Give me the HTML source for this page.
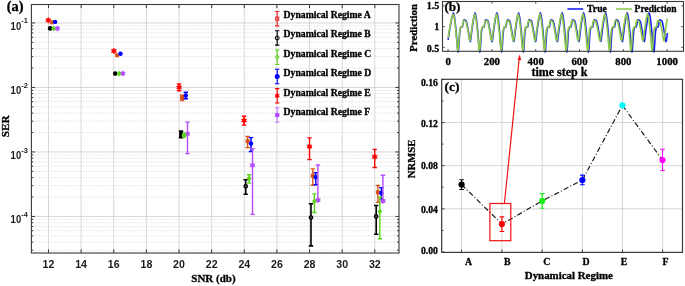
<!DOCTYPE html>
<html><head><meta charset="utf-8"><title>Figure</title>
<style>
html,body{margin:0;padding:0;background:#fff;}
body{width:685px;height:286px;overflow:hidden;font-family:"Liberation Sans", sans-serif;}
svg{display:block;will-change:transform;}
text[font-family*=Serif]{stroke:#000;stroke-width:0.3px;stroke-linejoin:round;}
</style></head><body>
<svg width="685" height="286" viewBox="0 0 685 286">
<rect x="0" y="0" width="685" height="286" fill="#fff"/>
<line x1="48.5" y1="4.5" x2="48.5" y2="253.0" stroke="#cdcdcd" stroke-width="0.8"/>
<line x1="81.13" y1="4.5" x2="81.13" y2="253.0" stroke="#cdcdcd" stroke-width="0.8"/>
<line x1="113.76" y1="4.5" x2="113.76" y2="253.0" stroke="#cdcdcd" stroke-width="0.8"/>
<line x1="146.39" y1="4.5" x2="146.39" y2="253.0" stroke="#cdcdcd" stroke-width="0.8"/>
<line x1="179.02" y1="4.5" x2="179.02" y2="253.0" stroke="#cdcdcd" stroke-width="0.8"/>
<line x1="211.65" y1="4.5" x2="211.65" y2="253.0" stroke="#cdcdcd" stroke-width="0.8"/>
<line x1="244.28" y1="4.5" x2="244.28" y2="253.0" stroke="#cdcdcd" stroke-width="0.8"/>
<line x1="276.91" y1="4.5" x2="276.91" y2="253.0" stroke="#cdcdcd" stroke-width="0.8"/>
<line x1="309.54" y1="4.5" x2="309.54" y2="253.0" stroke="#cdcdcd" stroke-width="0.8"/>
<line x1="342.17" y1="4.5" x2="342.17" y2="253.0" stroke="#cdcdcd" stroke-width="0.8"/>
<line x1="374.8" y1="4.5" x2="374.8" y2="253.0" stroke="#cdcdcd" stroke-width="0.8"/>
<line x1="31.4" y1="22.95" x2="399.0" y2="22.95" stroke="#cdcdcd" stroke-width="0.8"/>
<line x1="31.4" y1="87.45" x2="399.0" y2="87.45" stroke="#cdcdcd" stroke-width="0.8"/>
<line x1="31.4" y1="68.03" x2="399.0" y2="68.03" stroke="#e0e0e0" stroke-width="0.8" stroke-dasharray="2 1.2"/>
<line x1="31.4" y1="56.68" x2="399.0" y2="56.68" stroke="#e0e0e0" stroke-width="0.8" stroke-dasharray="2 1.2"/>
<line x1="31.4" y1="48.62" x2="399.0" y2="48.62" stroke="#e0e0e0" stroke-width="0.8" stroke-dasharray="2 1.2"/>
<line x1="31.4" y1="42.37" x2="399.0" y2="42.37" stroke="#e0e0e0" stroke-width="0.8" stroke-dasharray="2 1.2"/>
<line x1="31.4" y1="37.26" x2="399.0" y2="37.26" stroke="#e0e0e0" stroke-width="0.8" stroke-dasharray="2 1.2"/>
<line x1="31.4" y1="32.94" x2="399.0" y2="32.94" stroke="#e0e0e0" stroke-width="0.8" stroke-dasharray="2 1.2"/>
<line x1="31.4" y1="29.2" x2="399.0" y2="29.2" stroke="#e0e0e0" stroke-width="0.8" stroke-dasharray="2 1.2"/>
<line x1="31.4" y1="25.9" x2="399.0" y2="25.9" stroke="#e0e0e0" stroke-width="0.8" stroke-dasharray="2 1.2"/>
<line x1="31.4" y1="151.95" x2="399.0" y2="151.95" stroke="#cdcdcd" stroke-width="0.8"/>
<line x1="31.4" y1="132.53" x2="399.0" y2="132.53" stroke="#e0e0e0" stroke-width="0.8" stroke-dasharray="2 1.2"/>
<line x1="31.4" y1="121.18" x2="399.0" y2="121.18" stroke="#e0e0e0" stroke-width="0.8" stroke-dasharray="2 1.2"/>
<line x1="31.4" y1="113.12" x2="399.0" y2="113.12" stroke="#e0e0e0" stroke-width="0.8" stroke-dasharray="2 1.2"/>
<line x1="31.4" y1="106.87" x2="399.0" y2="106.87" stroke="#e0e0e0" stroke-width="0.8" stroke-dasharray="2 1.2"/>
<line x1="31.4" y1="101.76" x2="399.0" y2="101.76" stroke="#e0e0e0" stroke-width="0.8" stroke-dasharray="2 1.2"/>
<line x1="31.4" y1="97.44" x2="399.0" y2="97.44" stroke="#e0e0e0" stroke-width="0.8" stroke-dasharray="2 1.2"/>
<line x1="31.4" y1="93.7" x2="399.0" y2="93.7" stroke="#e0e0e0" stroke-width="0.8" stroke-dasharray="2 1.2"/>
<line x1="31.4" y1="90.4" x2="399.0" y2="90.4" stroke="#e0e0e0" stroke-width="0.8" stroke-dasharray="2 1.2"/>
<line x1="31.4" y1="216.45" x2="399.0" y2="216.45" stroke="#cdcdcd" stroke-width="0.8"/>
<line x1="31.4" y1="197.03" x2="399.0" y2="197.03" stroke="#e0e0e0" stroke-width="0.8" stroke-dasharray="2 1.2"/>
<line x1="31.4" y1="185.68" x2="399.0" y2="185.68" stroke="#e0e0e0" stroke-width="0.8" stroke-dasharray="2 1.2"/>
<line x1="31.4" y1="177.62" x2="399.0" y2="177.62" stroke="#e0e0e0" stroke-width="0.8" stroke-dasharray="2 1.2"/>
<line x1="31.4" y1="171.37" x2="399.0" y2="171.37" stroke="#e0e0e0" stroke-width="0.8" stroke-dasharray="2 1.2"/>
<line x1="31.4" y1="166.26" x2="399.0" y2="166.26" stroke="#e0e0e0" stroke-width="0.8" stroke-dasharray="2 1.2"/>
<line x1="31.4" y1="161.94" x2="399.0" y2="161.94" stroke="#e0e0e0" stroke-width="0.8" stroke-dasharray="2 1.2"/>
<line x1="31.4" y1="158.2" x2="399.0" y2="158.2" stroke="#e0e0e0" stroke-width="0.8" stroke-dasharray="2 1.2"/>
<line x1="31.4" y1="154.9" x2="399.0" y2="154.9" stroke="#e0e0e0" stroke-width="0.8" stroke-dasharray="2 1.2"/>
<line x1="31.4" y1="250.18" x2="399.0" y2="250.18" stroke="#e0e0e0" stroke-width="0.8" stroke-dasharray="2 1.2"/>
<line x1="31.4" y1="242.12" x2="399.0" y2="242.12" stroke="#e0e0e0" stroke-width="0.8" stroke-dasharray="2 1.2"/>
<line x1="31.4" y1="235.87" x2="399.0" y2="235.87" stroke="#e0e0e0" stroke-width="0.8" stroke-dasharray="2 1.2"/>
<line x1="31.4" y1="230.76" x2="399.0" y2="230.76" stroke="#e0e0e0" stroke-width="0.8" stroke-dasharray="2 1.2"/>
<line x1="31.4" y1="226.44" x2="399.0" y2="226.44" stroke="#e0e0e0" stroke-width="0.8" stroke-dasharray="2 1.2"/>
<line x1="31.4" y1="222.7" x2="399.0" y2="222.7" stroke="#e0e0e0" stroke-width="0.8" stroke-dasharray="2 1.2"/>
<line x1="31.4" y1="219.4" x2="399.0" y2="219.4" stroke="#e0e0e0" stroke-width="0.8" stroke-dasharray="2 1.2"/>
<path d="M48.5 253.0v-3.6M48.5 4.5v3.6M81.13 253.0v-3.6M81.13 4.5v3.6M113.76 253.0v-3.6M113.76 4.5v3.6M146.39 253.0v-3.6M146.39 4.5v3.6M179.02 253.0v-3.6M179.02 4.5v3.6M211.65 253.0v-3.6M211.65 4.5v3.6M244.28 253.0v-3.6M244.28 4.5v3.6M276.91 253.0v-3.6M276.91 4.5v3.6M309.54 253.0v-3.6M309.54 4.5v3.6M342.17 253.0v-3.6M342.17 4.5v3.6M374.8 253.0v-3.6M374.8 4.5v3.6M31.4 22.95h3.6M399.0 22.95h-3.6M31.4 87.45h3.6M399.0 87.45h-3.6M31.4 68.03h1.9M399.0 68.03h-1.9M31.4 56.68h1.9M399.0 56.68h-1.9M31.4 48.62h1.9M399.0 48.62h-1.9M31.4 42.37h1.9M399.0 42.37h-1.9M31.4 37.26h1.9M399.0 37.26h-1.9M31.4 32.94h1.9M399.0 32.94h-1.9M31.4 29.2h1.9M399.0 29.2h-1.9M31.4 25.9h1.9M399.0 25.9h-1.9M31.4 151.95h3.6M399.0 151.95h-3.6M31.4 132.53h1.9M399.0 132.53h-1.9M31.4 121.18h1.9M399.0 121.18h-1.9M31.4 113.12h1.9M399.0 113.12h-1.9M31.4 106.87h1.9M399.0 106.87h-1.9M31.4 101.76h1.9M399.0 101.76h-1.9M31.4 97.44h1.9M399.0 97.44h-1.9M31.4 93.7h1.9M399.0 93.7h-1.9M31.4 90.4h1.9M399.0 90.4h-1.9M31.4 216.45h3.6M399.0 216.45h-3.6M31.4 197.03h1.9M399.0 197.03h-1.9M31.4 185.68h1.9M399.0 185.68h-1.9M31.4 177.62h1.9M399.0 177.62h-1.9M31.4 171.37h1.9M399.0 171.37h-1.9M31.4 166.26h1.9M399.0 166.26h-1.9M31.4 161.94h1.9M399.0 161.94h-1.9M31.4 158.2h1.9M399.0 158.2h-1.9M31.4 154.9h1.9M399.0 154.9h-1.9M31.4 250.18h1.9M399.0 250.18h-1.9M31.4 242.12h1.9M399.0 242.12h-1.9M31.4 235.87h1.9M399.0 235.87h-1.9M31.4 230.76h1.9M399.0 230.76h-1.9M31.4 226.44h1.9M399.0 226.44h-1.9M31.4 222.7h1.9M399.0 222.7h-1.9M31.4 219.4h1.9M399.0 219.4h-1.9" stroke="#3a3a3a" stroke-width="1" fill="none"/>
<rect x="31.4" y="4.5" width="367.6" height="248.5" fill="none" stroke="#3a3a3a" stroke-width="1.1"/>
<text x="48.5" y="267.8" font-family='"Liberation Sans", sans-serif' font-weight="bold" font-size="10.6" text-anchor="middle" fill="#1a1a1a">12</text>
<text x="81.13" y="267.8" font-family='"Liberation Sans", sans-serif' font-weight="bold" font-size="10.6" text-anchor="middle" fill="#1a1a1a">14</text>
<text x="113.76" y="267.8" font-family='"Liberation Sans", sans-serif' font-weight="bold" font-size="10.6" text-anchor="middle" fill="#1a1a1a">16</text>
<text x="146.39" y="267.8" font-family='"Liberation Sans", sans-serif' font-weight="bold" font-size="10.6" text-anchor="middle" fill="#1a1a1a">18</text>
<text x="179.02" y="267.8" font-family='"Liberation Sans", sans-serif' font-weight="bold" font-size="10.6" text-anchor="middle" fill="#1a1a1a">20</text>
<text x="211.65" y="267.8" font-family='"Liberation Sans", sans-serif' font-weight="bold" font-size="10.6" text-anchor="middle" fill="#1a1a1a">22</text>
<text x="244.28" y="267.8" font-family='"Liberation Sans", sans-serif' font-weight="bold" font-size="10.6" text-anchor="middle" fill="#1a1a1a">24</text>
<text x="276.91" y="267.8" font-family='"Liberation Sans", sans-serif' font-weight="bold" font-size="10.6" text-anchor="middle" fill="#1a1a1a">26</text>
<text x="309.54" y="267.8" font-family='"Liberation Sans", sans-serif' font-weight="bold" font-size="10.6" text-anchor="middle" fill="#1a1a1a">28</text>
<text x="342.17" y="267.8" font-family='"Liberation Sans", sans-serif' font-weight="bold" font-size="10.6" text-anchor="middle" fill="#1a1a1a">30</text>
<text x="374.8" y="267.8" font-family='"Liberation Sans", sans-serif' font-weight="bold" font-size="10.6" text-anchor="middle" fill="#1a1a1a">32</text>
<text x="10.6" y="29.65" font-family='"Liberation Sans", sans-serif' font-weight="bold" font-size="10.6" fill="#1a1a1a" transform="translate(10.6 0) scale(0.9 1) translate(-10.6 0)">10</text>
<text x="21.2" y="23.45" font-family='"Liberation Sans", sans-serif' font-weight="bold" font-size="7.4" fill="#1a1a1a">-1</text>
<text x="10.6" y="94.2" font-family='"Liberation Sans", sans-serif' font-weight="bold" font-size="10.6" fill="#1a1a1a" transform="translate(10.6 0) scale(0.9 1) translate(-10.6 0)">10</text>
<text x="21.2" y="88" font-family='"Liberation Sans", sans-serif' font-weight="bold" font-size="7.4" fill="#1a1a1a">-2</text>
<text x="10.6" y="158.7" font-family='"Liberation Sans", sans-serif' font-weight="bold" font-size="10.6" fill="#1a1a1a" transform="translate(10.6 0) scale(0.9 1) translate(-10.6 0)">10</text>
<text x="21.2" y="152.5" font-family='"Liberation Sans", sans-serif' font-weight="bold" font-size="7.4" fill="#1a1a1a">-3</text>
<text x="10.6" y="223.2" font-family='"Liberation Sans", sans-serif' font-weight="bold" font-size="10.6" fill="#1a1a1a" transform="translate(10.6 0) scale(0.9 1) translate(-10.6 0)">10</text>
<text x="21.2" y="217" font-family='"Liberation Sans", sans-serif' font-weight="bold" font-size="7.4" fill="#1a1a1a">-4</text>
<text x="191.3" y="282.4" font-family='"Liberation Serif", serif' font-weight="bold" font-size="11" fill="#000">SNR (db)</text>
<text transform="translate(9.0 126.3) rotate(-90)" x="0" y="0" font-family='"Liberation Serif", serif' font-weight="bold" font-size="11.3" text-anchor="middle" fill="#000">SER</text>
<text x="6.8" y="10.9" font-family='"Liberation Serif", serif' font-weight="bold" font-size="14.4" fill="#000">(a)</text>
<polygon points="48.3,17.4 47.46,18.84 45.79,18.85 46.62,20.3 45.79,21.75 47.46,21.76 48.3,23.2 49.14,21.76 50.81,21.75 49.98,20.3 50.81,18.85 49.14,18.84" fill="#ff0000" stroke="#ff0000" stroke-width="0.6"/>
<polygon points="113.9,48.1 113.06,49.54 111.39,49.55 112.22,51 111.39,52.45 113.06,52.46 113.9,53.9 114.74,52.46 116.41,52.45 115.58,51 116.41,49.55 114.74,49.54" fill="#ff0000" stroke="#ff0000" stroke-width="0.6"/>
<path d="M179.1 84V90.7M176.9 84h4.4M176.9 90.7h4.4" stroke="#ff0000" stroke-width="1.4" fill="none"/>
<polygon points="179.1,84.5 178.26,85.94 176.59,85.95 177.42,87.4 176.59,88.85 178.26,88.86 179.1,90.3 179.94,88.86 181.61,88.85 180.78,87.4 181.61,85.95 179.94,85.94" fill="#ff0000" stroke="#ff0000" stroke-width="0.6"/>
<path d="M244.1 116.3V125.1M241.9 116.3h4.4M241.9 125.1h4.4" stroke="#ff0000" stroke-width="1.4" fill="none"/>
<polygon points="244.1,117.6 243.26,119.04 241.59,119.05 242.42,120.5 241.59,121.95 243.26,121.96 244.1,123.4 244.94,121.96 246.61,121.95 245.78,120.5 246.61,119.05 244.94,119.04" fill="#ff0000" stroke="#ff0000" stroke-width="0.6"/>
<path d="M309.5 137.9V159.6M307.3 137.9h4.4M307.3 159.6h4.4" stroke="#ff0000" stroke-width="1.4" fill="none"/>
<polygon points="309.5,143.7 308.66,145.14 306.99,145.15 307.82,146.6 306.99,148.05 308.66,148.06 309.5,149.5 310.34,148.06 312.01,148.05 311.18,146.6 312.01,145.15 310.34,145.14" fill="#ff0000" stroke="#ff0000" stroke-width="0.6"/>
<path d="M374.7 149.4V167.5M372.5 149.4h4.4M372.5 167.5h4.4" stroke="#ff0000" stroke-width="1.4" fill="none"/>
<polygon points="374.7,153.9 373.86,155.34 372.19,155.35 373.02,156.8 372.19,158.25 373.86,158.26 374.7,159.7 375.54,158.26 377.21,158.25 376.38,156.8 377.21,155.35 375.54,155.34" fill="#ff0000" stroke="#ff0000" stroke-width="0.6"/>
<circle cx="50.1" cy="28.4" r="2.3" fill="#000000"/>
<circle cx="115.2" cy="73.6" r="2.3" fill="#000000"/>
<path d="M181 131V137.6M178.8 131h4.4M178.8 137.6h4.4" stroke="#000000" stroke-width="1.6" fill="none"/>
<rect x="179.1" y="131" width="3.8" height="6.6" fill="#000"/>
<path d="M245.7 179.7V194.2M243.5 179.7h4.4M243.5 194.2h4.4" stroke="#000000" stroke-width="1.6" fill="none"/>
<circle cx="245.7" cy="186.3" r="1.7" fill="#555" stroke="#000" stroke-width="1.3"/>
<path d="M311 203.8V245.9M308.8 203.8h4.4M308.8 245.9h4.4" stroke="#000000" stroke-width="1.6" fill="none"/>
<circle cx="311" cy="217.5" r="1.7" fill="#555" stroke="#000" stroke-width="1.3"/>
<path d="M376.2 205.5V234.3M374 205.5h4.4M374 234.3h4.4" stroke="#000000" stroke-width="1.6" fill="none"/>
<circle cx="376.2" cy="216.4" r="1.7" fill="#555" stroke="#000" stroke-width="1.3"/>
<rect x="49.9" y="20.3" width="4.0" height="4.0" fill="#d95319"/>
<rect x="115.1" y="53.3" width="4.0" height="4.0" fill="#d95319"/>
<path d="M182.1 95.2V100.6M179.9 95.2h4.4M179.9 100.6h4.4" stroke="#d95319" stroke-width="1.4" fill="none"/>
<rect x="180.1" y="95.8" width="4.0" height="4.0" fill="#d95319"/>
<path d="M247.6 136.5V147.6M245.4 136.5h4.4M245.4 147.6h4.4" stroke="#d95319" stroke-width="1.4" fill="none"/>
<rect x="245.6" y="139.2" width="4.0" height="4.0" fill="#d95319"/>
<path d="M312.8 168.9V185.2M310.6 168.9h4.4M310.6 185.2h4.4" stroke="#d95319" stroke-width="1.4" fill="none"/>
<rect x="310.8" y="173.7" width="4.0" height="4.0" fill="#d95319"/>
<path d="M377.9 185.5V202.4M375.7 185.5h4.4M375.7 202.4h4.4" stroke="#d95319" stroke-width="1.4" fill="none"/>
<rect x="375.9" y="190.3" width="4.0" height="4.0" fill="#d95319"/>
<circle cx="55.1" cy="21.9" r="2.2" fill="#0000ff"/>
<circle cx="120.5" cy="53.7" r="2.2" fill="#0000ff"/>
<path d="M185.8 92.2V98.8M183.6 92.2h4.4M183.6 98.8h4.4" stroke="#0000ff" stroke-width="1.4" fill="none"/>
<circle cx="185.8" cy="95.5" r="2.2" fill="#0000ff"/>
<path d="M251 137.6V151.5M248.8 137.6h4.4M248.8 151.5h4.4" stroke="#0000ff" stroke-width="1.4" fill="none"/>
<circle cx="251" cy="143.4" r="2.2" fill="#0000ff"/>
<path d="M315.8 172.6V184.7M313.6 172.6h4.4M313.6 184.7h4.4" stroke="#0000ff" stroke-width="1.4" fill="none"/>
<circle cx="315.8" cy="177.3" r="2.2" fill="#0000ff"/>
<path d="M381.3 187.6V199.4M379.1 187.6h4.4M379.1 199.4h4.4" stroke="#0000ff" stroke-width="1.4" fill="none"/>
<circle cx="381.3" cy="193" r="2.2" fill="#0000ff"/>
<polygon points="57.3,25.7 56.49,27.09 54.88,27.1 55.68,28.5 54.88,29.9 56.49,29.91 57.3,31.3 58.11,29.91 59.72,29.9 58.92,28.5 59.72,27.1 58.11,27.09" fill="#b44cff" stroke="#b44cff" stroke-width="0.6"/>
<polygon points="122.8,70.7 121.99,72.09 120.38,72.1 121.18,73.5 120.38,74.9 121.99,74.91 122.8,76.3 123.61,74.91 125.22,74.9 124.42,73.5 125.22,72.1 123.61,72.09" fill="#b44cff" stroke="#b44cff" stroke-width="0.6"/>
<path d="M187.5 122.1V153.6M185.3 122.1h4.4M185.3 153.6h4.4" stroke="#b44cff" stroke-width="1.4" fill="none"/>
<polygon points="187.5,131 186.69,132.39 185.08,132.4 185.88,133.8 185.08,135.2 186.69,135.21 187.5,136.6 188.31,135.21 189.92,135.2 189.12,133.8 189.92,132.4 188.31,132.39" fill="#b44cff" stroke="#b44cff" stroke-width="0.6"/>
<path d="M252.5 148.7V214.4M250.3 148.7h4.4M250.3 214.4h4.4" stroke="#b44cff" stroke-width="1.4" fill="none"/>
<polygon points="252.5,162.5 251.69,163.89 250.08,163.9 250.88,165.3 250.08,166.7 251.69,166.71 252.5,168.1 253.31,166.71 254.92,166.7 254.12,165.3 254.92,163.9 253.31,163.89" fill="#b44cff" stroke="#b44cff" stroke-width="0.6"/>
<path d="M317.9 165V201M315.7 165h4.4M315.7 201h4.4" stroke="#b44cff" stroke-width="1.4" fill="none"/>
<polygon points="317.9,197.4 317.09,198.79 315.48,198.8 316.28,200.2 315.48,201.6 317.09,201.61 317.9,203 318.71,201.61 320.32,201.6 319.52,200.2 320.32,198.8 318.71,198.79" fill="#b44cff" stroke="#b44cff" stroke-width="0.6"/>
<path d="M382.9 175.2V201M380.7 175.2h4.4M380.7 201h4.4" stroke="#b44cff" stroke-width="1.4" fill="none"/>
<polygon points="382.9,198.2 382.09,199.59 380.48,199.6 381.28,201 380.48,202.4 382.09,202.41 382.9,203.8 383.71,202.41 385.32,202.4 384.52,201 385.32,199.6 383.71,199.59" fill="#b44cff" stroke="#b44cff" stroke-width="0.6"/>
<polygon points="53.5,25.4 55.9,28.5 53.5,31.6 51.1,28.5" fill="#5fd31f"/>
<polygon points="119,70.6 121.4,73.7 119,76.8 116.6,73.7" fill="#5fd31f"/>
<ellipse cx="184.1" cy="135.2" rx="2.3" ry="3.0" fill="#5fd31f"/>
<path d="M249.1 174.7V183.1M246.9 174.7h4.4M246.9 183.1h4.4" stroke="#5fd31f" stroke-width="1.4" fill="none"/>
<polygon points="249.1,175.5 251.5,178.6 249.1,181.7 246.7,178.6" fill="#5fd31f"/>
<path d="M314.4 193.9V212.5M312.2 193.9h4.4M312.2 212.5h4.4" stroke="#5fd31f" stroke-width="1.4" fill="none"/>
<polygon points="314.4,198.2 316.8,201.3 314.4,204.4 312,201.3" fill="#5fd31f"/>
<path d="M379.8 197.3V238.7M377.6 197.3h4.4M377.6 238.7h4.4" stroke="#5fd31f" stroke-width="1.4" fill="none"/>
<polygon points="379.8,208.4 382.2,211.5 379.8,214.6 377.4,211.5" fill="#5fd31f"/>
<path d="M277.2 11.5V25.9M275 11.5h4.4M275 25.9h4.4" stroke="#e8262a" stroke-width="1.1" fill="none"/>
<rect x="275.6" y="17.1" width="3.2" height="3.2" fill="none" stroke="#e8262a" stroke-width="1"/>
<text x="283.6" y="17.9" font-family='"Liberation Serif", serif' font-weight="bold" font-size="9.7" fill="#000">Dynamical Regime A</text>
<path d="M277.2 30.77V45.17M275 30.77h4.4M275 45.17h4.4" stroke="#000000" stroke-width="1.1" fill="none"/>
<circle cx="277.2" cy="37.97" r="2.0" fill="none" stroke="#000000" stroke-width="1"/>
<text x="283.6" y="37.36" font-family='"Liberation Serif", serif' font-weight="bold" font-size="9.7" fill="#000">Dynamical Regime B</text>
<path d="M277.2 50.04V64.44M275 50.04h4.4M275 64.44h4.4" stroke="#5fd31f" stroke-width="1.1" fill="none"/>
<polygon points="277.2,54.94 279.3,57.24 277.2,59.54 275.1,57.24" fill="none" stroke="#5fd31f" stroke-width="1"/>
<text x="283.6" y="56.82" font-family='"Liberation Serif", serif' font-weight="bold" font-size="9.7" fill="#000">Dynamical Regime C</text>
<path d="M277.2 69.31V83.71M275 69.31h4.4M275 83.71h4.4" stroke="#0000ff" stroke-width="1.1" fill="none"/>
<circle cx="277.2" cy="76.51" r="2.5" fill="#0000ff"/>
<text x="283.6" y="76.28" font-family='"Liberation Serif", serif' font-weight="bold" font-size="9.7" fill="#000">Dynamical Regime D</text>
<path d="M277.2 88.58V102.98M275 88.58h4.4M275 102.98h4.4" stroke="#ff0000" stroke-width="1.1" fill="none"/>
<polygon points="277.2,93.38 276.5,94.57 275.12,94.58 275.81,95.78 275.12,96.98 276.5,96.99 277.2,98.18 277.9,96.99 279.28,96.98 278.59,95.78 279.28,94.58 277.9,94.57" fill="#ff0000" stroke="#ff0000" stroke-width="0.6"/>
<text x="283.6" y="95.74" font-family='"Liberation Serif", serif' font-weight="bold" font-size="9.7" fill="#000">Dynamical Regime E</text>
<path d="M277.2 107.85V122.25M275 107.85h4.4M275 122.25h4.4" stroke="#c47dff" stroke-width="1.1" fill="none"/>
<polygon points="277.2,112.45 276.45,113.74 274.95,113.75 275.69,115.05 274.95,116.35 276.45,116.36 277.2,117.65 277.95,116.36 279.45,116.35 278.71,115.05 279.45,113.75 277.95,113.74" fill="#b040ff" stroke="#b040ff" stroke-width="0.6"/>
<text x="283.6" y="115.2" font-family='"Liberation Serif", serif' font-weight="bold" font-size="9.7" fill="#000">Dynamical Regime F</text>
<path d="M448.1 51.3v-2.2M448.1 1.5v2.2M491.91 51.3v-2.2M491.91 1.5v2.2M535.72 51.3v-2.2M535.72 1.5v2.2M579.53 51.3v-2.2M579.53 1.5v2.2M623.34 51.3v-2.2M623.34 1.5v2.2M667.15 51.3v-2.2M667.15 1.5v2.2M442.5 47.3h2.2M683.5 47.3h-2.2M442.5 26.6h2.2M683.5 26.6h-2.2M442.5 5.9h2.2M683.5 5.9h-2.2" stroke="#3a3a3a" stroke-width="0.9" fill="none"/>
<polyline points="448.10,39.90 448.35,38.42 448.60,36.68 448.85,34.82 449.10,32.98 449.35,31.30 449.60,29.88 449.85,28.49 450.10,27.07 450.35,25.64 450.60,24.22 450.85,22.83 451.10,21.47 451.35,20.18 451.60,18.96 451.85,17.84 452.10,16.82 452.35,15.92 452.60,15.10 452.85,14.34 453.10,13.65 453.35,13.04 453.60,13.27 453.85,14.04 454.10,15.04 454.35,16.20 454.60,17.59 454.85,19.42 455.10,21.59 455.35,23.98 455.60,26.47 455.85,28.94 456.10,31.33 456.35,34.11 456.60,37.24 456.85,40.52 457.10,43.74 457.35,46.70 457.60,49.19 457.85,51.01 458.10,51.96 458.35,51.65 458.60,49.58 458.85,46.23 459.10,42.17 459.35,37.95 459.60,34.16 459.85,31.35 460.10,29.91 460.35,28.81 460.60,27.86 460.85,27.17 461.10,26.82 461.35,26.82 461.60,26.95 461.85,27.11 462.10,27.21 462.35,27.03 462.60,26.19 462.85,24.89 463.10,23.37 463.35,21.88 463.60,20.65 463.85,19.93 464.10,19.84 464.35,19.88 464.60,19.95 464.85,20.05 465.10,20.18 465.35,20.33 465.60,20.51 465.85,20.72 466.10,20.94 466.35,21.43 466.60,22.24 466.85,23.32 467.10,24.59 467.35,25.97 467.60,27.41 467.85,28.84 468.10,30.17 468.35,31.50 468.60,33.10 468.85,34.84 469.10,36.60 469.35,38.27 469.60,39.72 469.85,40.82 470.10,41.45 470.35,41.46 470.60,40.55 470.85,38.90 471.10,36.79 471.35,34.48 471.60,32.24 471.85,30.33 472.10,28.62 472.35,26.86 472.60,25.08 472.85,23.33 473.10,21.64 473.35,20.03 473.60,18.54 473.85,17.21 474.10,16.06 474.35,15.03 474.60,14.11 474.85,13.29 475.10,13.09 475.35,13.77 475.60,14.69 475.85,15.79 476.10,17.04 476.35,18.70 476.60,20.73 476.85,23.02 477.10,25.45 477.35,27.90 477.60,30.28 477.85,32.80 478.10,35.75 478.35,38.94 478.60,42.17 478.85,45.24 479.10,47.97 479.35,50.14 479.60,51.56 479.85,52.04 480.10,50.97 480.35,48.33 480.60,44.67 480.85,40.54 481.10,36.47 481.35,33.02 481.60,30.72 481.85,29.54 482.10,28.49 482.35,27.63 482.60,27.03 482.85,26.79 483.10,26.85 483.35,26.99 483.60,27.14 483.85,27.22 484.10,26.91 484.35,25.97 484.60,24.63 484.85,23.12 485.10,21.68 485.35,20.52 485.60,19.89 485.85,19.84 486.10,19.88 486.35,19.95 486.60,20.05 486.85,20.18 487.10,20.34 487.35,20.52 487.60,20.72 487.85,20.94 488.10,21.42 488.35,22.21 488.60,23.27 488.85,24.51 489.10,25.87 489.35,27.29 489.60,28.70 489.85,30.02 490.10,31.32 490.35,32.86 490.60,34.57 490.85,36.31 491.10,37.98 491.35,39.46 491.60,40.62 491.85,41.36 492.10,41.54 492.35,40.85 492.60,39.39 492.85,37.41 493.10,35.16 493.35,32.90 493.60,30.89 493.85,29.20 494.10,27.47 494.35,25.72 494.60,23.98 494.85,22.29 495.10,20.66 495.35,19.14 495.60,17.76 495.85,16.55 496.10,15.49 496.35,14.53 496.60,13.67 496.85,12.93 497.10,13.41 497.35,14.23 497.60,15.25 497.85,16.43 498.10,17.90 498.35,19.79 498.60,22.00 498.85,24.40 499.10,26.89 499.35,29.33 499.60,31.73 499.85,34.57 500.10,37.72 500.35,40.99 500.60,44.17 500.85,47.06 501.10,49.47 501.35,51.18 501.60,52.00 501.85,51.50 502.10,49.27 502.35,45.83 502.60,41.74 502.85,37.56 503.10,33.85 503.35,31.17 503.60,29.82 503.85,28.73 504.10,27.80 504.35,27.13 504.60,26.81 504.85,26.83 505.10,26.96 505.35,27.12 505.60,27.21 505.85,27.01 506.10,26.15 506.35,24.84 506.60,23.33 506.85,21.85 507.10,20.64 507.35,19.93 507.60,19.84 507.85,19.88 508.10,19.95 508.35,20.05 508.60,20.17 508.85,20.33 509.10,20.51 509.35,20.71 509.60,20.94 509.85,21.41 510.10,22.21 510.35,23.27 510.60,24.52 510.85,25.90 511.10,27.33 511.35,28.75 511.60,30.08 511.85,31.40 512.10,32.97 512.35,34.70 512.60,36.46 512.85,38.13 513.10,39.59 513.35,40.73 513.60,41.41 513.85,41.50 514.10,40.69 514.35,39.12 514.60,37.06 514.85,34.77 515.10,32.52 515.35,30.56 515.60,28.86 515.85,27.11 516.10,25.35 516.35,23.60 516.60,21.90 516.85,20.28 517.10,18.78 517.35,17.43 517.60,16.25 517.85,15.21 518.10,14.27 518.35,13.44 518.60,12.99 518.85,13.63 519.10,14.51 519.35,15.58 519.60,16.80 519.85,18.39 520.10,20.37 520.35,22.64 520.60,25.06 520.85,27.54 521.10,29.94 521.35,32.41 521.60,35.33 521.85,38.51 522.10,41.76 522.35,44.88 522.60,47.67 522.85,49.92 523.10,51.45 523.35,52.04 523.60,51.15 523.85,48.64 524.10,45.03 524.35,40.90 524.60,36.79 524.85,33.25 525.10,30.84 525.35,29.62 525.60,28.55 525.85,27.67 526.10,27.05 526.35,26.79 526.60,26.84 526.85,26.98 527.10,27.14 527.35,27.22 527.60,26.92 527.85,25.99 528.10,24.66 528.35,23.14 528.60,21.69 528.85,20.53 529.10,19.89 529.35,19.84 529.60,19.88 529.85,19.95 530.10,20.06 530.35,20.19 530.60,20.34 530.85,20.52 531.10,20.73 531.35,20.96 531.60,21.45 531.85,22.26 532.10,23.33 532.35,24.59 532.60,25.97 532.85,27.39 533.10,28.80 533.35,30.12 533.60,31.44 533.85,33.01 534.10,34.73 534.35,36.48 534.60,38.14 534.85,39.60 535.10,40.73 535.35,41.41 535.60,41.50 535.85,40.71 536.10,39.16 536.35,37.12 536.60,34.84 536.85,32.59 537.10,30.63 537.35,28.93 537.60,27.19 537.85,25.44 538.10,23.70 538.35,22.00 538.60,20.39 538.85,18.88 539.10,17.52 539.35,16.34 539.60,15.29 539.85,14.35 540.10,13.51 540.35,12.94 540.60,13.55 540.85,14.41 541.10,15.47 541.35,16.67 541.60,18.22 541.85,20.17 542.10,22.41 542.35,24.82 542.60,27.30 542.85,29.71 543.10,32.15 543.35,35.03 543.60,38.19 543.85,41.45 544.10,44.59 544.35,47.42 544.60,49.73 544.85,51.34 545.10,52.03 545.35,51.32 545.60,48.94 545.85,45.41 546.10,41.31 546.35,37.17 546.60,33.55 546.85,31.01 547.10,29.72 547.35,28.65 547.60,27.75 547.85,27.10 548.10,26.80 548.35,26.83 548.60,26.97 548.85,27.12 549.10,27.21 549.35,26.98 549.60,26.11 549.85,24.80 550.10,23.29 550.35,21.82 550.60,20.62 550.85,19.92 551.10,19.84 551.35,19.88 551.60,19.95 551.85,20.04 552.10,20.17 552.35,20.33 552.60,20.51 552.85,20.71 553.10,20.93 553.35,21.38 553.60,22.17 553.85,23.22 554.10,24.46 554.35,25.83 554.60,27.25 554.85,28.67 555.10,30.00 555.35,31.30 555.60,32.85 555.85,34.56 556.10,36.31 556.35,37.99 556.60,39.47 556.85,40.64 557.10,41.37 557.35,41.53 557.60,40.82 557.85,39.33 558.10,37.33 558.35,35.06 558.60,32.80 558.85,30.80 559.10,29.10 559.35,27.36 559.60,25.61 559.85,23.86 560.10,22.16 560.35,20.54 560.60,19.02 560.85,17.65 561.10,16.45 561.35,15.39 561.60,14.43 561.85,13.59 562.10,12.90 562.35,13.49 562.60,14.35 562.85,15.41 563.10,16.62 563.35,18.17 563.60,20.14 563.85,22.41 564.10,24.86 564.35,27.37 564.60,29.81 564.85,32.30 565.10,35.25 565.35,38.47 565.60,41.77 565.85,44.93 566.10,47.75 566.35,50.01 566.60,51.51 566.85,52.04 567.10,50.99 567.35,48.31 567.60,44.57 567.85,40.36 568.10,36.23 568.35,32.78 568.60,30.58 568.85,29.41 569.10,28.36 569.35,27.51 569.60,26.96 569.85,26.79 570.10,26.87 570.35,27.03 570.60,27.17 570.85,27.21 571.10,26.69 571.35,25.59 571.60,24.15 571.85,22.61 572.10,21.21 572.35,20.21 572.60,19.84 572.85,19.85 573.10,19.91 573.35,19.99 573.60,20.11 573.85,20.26 574.10,20.43 574.35,20.62 574.60,20.84 574.85,21.17 575.10,21.85 575.35,22.82 575.60,24.02 575.85,25.37 576.10,26.81 576.35,28.25 576.60,29.63 576.85,30.92 577.10,32.43 577.35,34.14 577.60,35.92 577.85,37.64 578.10,39.20 578.35,40.45 578.60,41.28 578.85,41.55 579.10,40.98 579.35,39.56 579.60,37.58 579.85,35.29 580.10,32.99 580.35,30.93 580.60,29.20 580.85,27.44 581.10,25.66 581.35,23.89 581.60,22.17 581.85,20.52 582.10,18.99 582.35,17.60 582.60,16.39 582.85,15.32 583.10,14.36 583.35,13.51 583.60,12.95 583.85,13.55 584.10,14.41 584.35,15.45 584.60,16.64 584.85,18.15 585.10,20.07 585.35,22.28 585.60,24.67 585.85,27.12 586.10,29.52 586.35,31.90 586.60,34.72 586.85,37.84 587.10,41.06 587.35,44.20 587.60,47.05 587.85,49.43 588.10,51.14 588.35,51.99 588.60,51.58 588.85,49.47 589.10,46.15 589.35,42.16 589.60,38.02 589.85,34.27 590.10,31.47 590.35,29.99 590.60,28.90 590.85,27.96 591.10,27.24 591.35,26.84 591.60,26.81 591.85,26.92 592.10,27.08 592.35,27.20 592.60,27.14 592.85,26.45 593.10,25.27 593.35,23.82 593.60,22.32 593.85,21.01 594.10,20.11 594.35,19.84 594.60,19.86 594.85,19.91 595.10,20.00 595.35,20.12 595.60,20.26 595.85,20.42 596.10,20.61 596.35,20.82 596.60,21.13 596.85,21.76 597.10,22.68 597.35,23.83 597.60,25.13 597.85,26.52 598.10,27.94 598.35,29.31 598.60,30.57 598.85,31.97 599.10,33.59 599.35,35.32 599.60,37.04 599.85,38.64 600.10,39.99 600.35,40.98 600.60,41.51 600.85,41.37 601.10,40.35 601.35,38.66 601.60,36.55 601.85,34.27 602.10,32.09 602.35,30.25 602.60,28.56 602.85,26.83 603.10,25.09 603.35,23.37 603.60,21.70 603.85,20.12 604.10,18.65 604.35,17.33 604.60,16.18 604.85,15.16 605.10,14.24 605.35,13.42 605.60,13.00 605.85,13.65 606.10,14.54 606.35,15.63 606.60,16.87 606.85,18.50 607.10,20.53 607.35,22.83 607.60,25.29 607.85,27.78 608.10,30.19 608.35,32.73 608.60,35.72 608.85,38.96 609.10,42.23 609.35,45.34 609.60,48.08 609.85,50.25 610.10,51.63 610.35,52.02 610.60,50.76 610.85,47.95 611.10,44.15 611.35,39.93 611.60,35.87 611.85,32.52 612.10,30.46 612.35,29.32 612.60,28.29 612.85,27.46 613.10,26.93 613.35,26.79 613.60,26.88 613.85,27.04 614.10,27.17 614.35,27.20 614.60,26.66 614.85,25.55 615.10,24.10 615.35,22.57 615.60,21.19 615.85,20.20 616.10,19.84 616.35,19.85 616.60,19.91 616.85,19.99 617.10,20.11 617.35,20.25 617.60,20.42 617.85,20.62 618.10,20.83 618.35,21.15 618.60,21.82 618.85,22.78 619.10,23.96 619.35,25.30 619.60,26.73 619.85,28.17 620.10,29.55 620.35,30.83 620.60,32.31 620.85,34.00 621.10,35.77 621.35,37.50 621.60,39.07 621.85,40.35 622.10,41.22 622.35,41.56 622.60,41.09 622.85,39.76 623.10,37.83 623.35,35.58 623.60,33.28 623.85,31.18 624.10,29.44 624.35,27.70 624.60,25.92 624.85,24.16 625.10,22.43 625.35,20.78 625.60,19.23 625.85,17.82 626.10,16.59 626.35,15.50 626.60,14.53 626.85,13.66 627.10,12.91 627.35,13.41 627.60,14.22 627.85,15.24 628.10,16.40 628.35,17.82 628.60,19.67 628.85,21.83 629.10,24.19 629.35,26.64 629.60,29.06 629.85,31.41 630.10,34.15 630.35,37.22 630.60,40.44 630.85,43.61 631.10,46.53 631.35,49.02 631.60,50.87 631.85,51.90 632.10,51.80 632.35,49.99 632.60,46.87 632.85,42.96 633.10,38.80 633.35,34.94 633.60,31.91 633.85,30.21 634.10,29.11 634.35,28.12 634.60,27.36 634.85,26.89 635.10,26.80 635.35,26.90 635.60,27.05 635.85,27.18 636.10,27.19 636.35,26.63 636.60,25.53 636.85,24.11 637.10,22.61 637.35,21.24 637.60,20.24 637.85,19.84 638.10,19.85 638.35,19.90 638.60,19.98 638.85,20.09 639.10,20.23 639.35,20.39 639.60,20.58 639.85,20.78 640.10,21.04 640.35,21.61 640.60,22.48 640.85,23.59 641.10,24.87 641.35,26.25 641.60,27.66 641.85,29.05 642.10,30.34 642.35,31.68 642.60,33.26 642.85,34.98 643.10,36.71 643.35,38.34 643.60,39.75 643.85,40.83 644.10,41.45 644.35,41.47 644.60,40.61 644.85,39.03 645.10,36.98 645.35,34.72 645.60,32.49 645.85,30.57 646.10,28.89 646.35,27.17 646.60,25.42 646.85,23.70 647.10,22.02 647.35,20.42 647.60,18.93 647.85,17.57 648.10,16.39 648.35,15.35 648.60,14.41 648.85,13.57 649.10,12.90 649.35,13.49 649.60,14.33 649.85,15.38 650.10,16.57 650.35,18.07 650.60,19.99 650.85,22.21 651.10,24.62 651.35,27.09 651.60,29.52 651.85,31.93 652.10,34.77 652.35,37.93 652.60,41.18 652.85,44.34 653.10,47.20 653.35,49.56 653.60,51.24 653.85,52.01 654.10,51.45 654.35,49.19 654.60,45.74 654.85,41.66 655.10,37.50 655.35,33.82 655.60,31.16 655.85,29.82 656.10,28.73 656.35,27.81 656.60,27.14 656.85,26.81 657.10,26.83 657.35,26.96 657.60,27.11 657.85,27.21 658.10,27.03 658.35,26.20 658.60,24.92 658.85,23.42 659.10,21.93 659.35,20.70 659.60,19.95 659.85,19.84 660.10,19.87 660.35,19.94 660.60,20.04 660.85,20.16 661.10,20.31 661.35,20.49 661.60,20.69 661.85,20.91 662.10,21.33 662.35,22.09 662.60,23.12 662.85,24.35 663.10,25.71 663.35,27.13 663.60,28.55 663.85,29.89 664.10,31.18 664.35,32.71 664.60,34.41 664.85,36.17 665.10,37.86 665.35,39.36 665.60,40.55 665.85,41.32 666.10,41.55 666.35,40.92 666.60,39.48 666.85,37.51 667.10,35.25 667.35,32.98" fill="none" stroke="#1a22ee" stroke-width="1.6" stroke-linejoin="round"/>
<polyline points="448.10,38.17 448.35,36.57 448.60,34.84 448.85,33.10 449.10,31.48 449.35,30.12 449.60,28.82 449.85,27.49 450.10,26.15 450.35,24.82 450.60,23.50 450.85,22.23 451.10,21.00 451.35,19.85 451.60,18.78 451.85,17.82 452.10,16.96 452.35,16.17 452.60,15.45 452.85,14.80 453.10,14.22 453.35,14.29 453.60,14.99 453.85,15.90 454.10,16.97 454.35,18.24 454.60,19.91 454.85,21.92 455.10,24.15 455.35,26.48 455.60,28.80 455.85,31.03 456.10,33.60 456.35,36.51 456.60,39.58 456.85,42.62 457.10,45.42 457.35,47.79 457.60,49.55 457.85,50.49 458.10,50.30 458.35,48.45 458.60,45.36 458.85,41.56 459.10,37.61 459.35,34.02 459.60,31.34 459.85,29.96 460.10,28.92 460.35,28.03 460.60,27.37 460.85,27.03 461.10,27.03 461.35,27.15 461.60,27.30 461.85,27.39 462.10,27.23 462.35,26.44 462.60,25.22 462.85,23.80 463.10,22.40 463.35,21.25 463.60,20.58 463.85,20.50 464.10,20.54 464.35,20.61 464.60,20.70 464.85,20.82 465.10,20.97 465.35,21.14 465.60,21.33 465.85,21.55 466.10,22.02 466.35,22.80 466.60,23.82 466.85,25.02 467.10,26.32 467.35,27.67 467.60,29.00 467.85,30.24 468.10,31.51 468.35,33.02 468.60,34.66 468.85,36.31 469.10,37.86 469.35,39.19 469.60,40.19 469.85,40.73 470.10,40.66 470.35,39.72 470.60,38.12 470.85,36.10 471.10,33.93 471.35,31.85 471.60,30.11 471.85,28.50 472.10,26.84 472.35,25.18 472.60,23.55 472.85,21.96 473.10,20.47 473.35,19.10 473.60,17.87 473.85,16.81 474.10,15.86 474.35,15.01 474.60,14.27 474.85,14.29 475.10,14.97 475.35,15.87 475.60,16.92 475.85,18.14 476.10,19.77 476.35,21.73 476.60,23.91 476.85,26.20 477.10,28.50 477.35,30.70 477.60,33.16 477.85,35.99 478.10,39.01 478.35,42.02 478.60,44.85 478.85,47.30 479.10,49.19 479.35,50.34 479.60,50.52 479.85,49.12 480.10,46.37 480.35,42.79 480.60,38.88 480.85,35.16 481.10,32.15 481.35,30.36 481.60,29.30 481.85,28.36 482.10,27.60 482.35,27.13 482.60,27.00 482.85,27.09 483.10,27.23 483.35,27.36 483.60,27.39 483.85,26.90 484.10,25.89 484.35,24.57 484.60,23.15 484.85,21.85 485.10,20.90 485.35,20.50 485.60,20.51 485.85,20.56 486.10,20.64 486.35,20.74 486.60,20.87 486.85,21.02 487.10,21.20 487.35,21.39 487.60,21.65 487.85,22.21 488.10,23.04 488.35,24.10 488.60,25.32 488.85,26.62 489.10,27.95 489.35,29.25 489.60,30.45 489.85,31.75 490.10,33.27 490.35,34.89 490.60,36.52 490.85,38.02 491.10,39.31 491.35,40.25 491.60,40.75 491.85,40.63 492.10,39.66 492.35,38.06 492.60,36.07 492.85,33.93 493.10,31.88 493.35,30.16 493.60,28.56 493.85,26.93 494.10,25.29 494.35,23.68 494.60,22.11 494.85,20.63 495.10,19.26 495.35,18.03 495.60,16.97 495.85,16.01 496.10,15.16 496.35,14.40 496.60,14.18 496.85,14.83 497.10,15.69 497.35,16.73 497.60,17.92 497.85,19.50 498.10,21.44 498.35,23.61 498.60,25.92 498.85,28.24 499.10,30.47 499.35,32.91 499.60,35.74 499.85,38.77 500.10,41.82 500.35,44.69 500.60,47.19 500.85,49.13 501.10,50.32 501.35,50.53 501.60,49.15 501.85,46.38 502.10,42.76 502.35,38.81 502.60,35.07 502.85,32.06 503.10,30.31 503.35,29.25 503.60,28.30 503.85,27.56 504.10,27.10 504.35,27.01 504.60,27.10 504.85,27.25 505.10,27.37 505.35,27.36 505.60,26.79 505.85,25.71 506.10,24.35 506.35,22.92 506.60,21.65 506.85,20.78 507.10,20.50 507.35,20.52 507.60,20.57 507.85,20.66 508.10,20.77 508.35,20.91 508.60,21.07 508.85,21.25 509.10,21.45 509.35,21.77 509.60,22.42 509.85,23.34 510.10,24.46 510.35,25.72 510.60,27.05 510.85,28.39 511.10,29.67 511.35,30.87 511.60,32.27 511.85,33.86 512.10,35.51 512.35,37.12 512.60,38.57 512.85,39.74 513.10,40.52 513.35,40.80 513.60,40.30 513.85,39.02 514.10,37.20 514.35,35.09 514.60,32.94 514.85,31.00 515.10,29.38 515.35,27.75 515.60,26.10 515.85,24.45 516.10,22.85 516.35,21.31 516.60,19.87 516.85,18.56 517.10,17.41 517.35,16.41 517.60,15.50 517.85,14.70 518.10,14.00 518.35,14.54 518.60,15.31 518.85,16.29 519.10,17.39 519.35,18.79 519.60,20.57 519.85,22.65 520.10,24.90 520.35,27.22 520.60,29.50 520.85,31.75 521.10,34.41 521.35,37.37 521.60,40.42 521.85,43.38 522.10,46.07 522.35,48.28 522.60,49.85 522.85,50.57 523.10,50.03 523.35,47.89 523.60,44.65 523.85,40.82 524.10,36.92 524.35,33.49 524.60,31.03 524.85,29.79 525.10,28.78 525.35,27.92 525.60,27.31 525.85,27.01 526.10,27.04 526.35,27.16 526.60,27.31 526.85,27.40 527.10,27.19 527.35,26.38 527.60,25.15 527.85,23.74 528.10,22.36 528.35,21.23 528.60,20.58 528.85,20.50 529.10,20.54 529.35,20.60 529.60,20.70 529.85,20.82 530.10,20.96 530.35,21.13 530.60,21.32 530.85,21.53 531.10,21.97 531.35,22.72 531.60,23.71 531.85,24.88 532.10,26.17 532.35,27.51 532.60,28.83 532.85,30.07 533.10,31.30 533.35,32.76 533.60,34.38 533.85,36.02 534.10,37.58 534.35,38.95 534.60,40.02 534.85,40.66 535.10,40.75 535.35,40.01 535.60,38.56 535.85,36.64 536.10,34.50 536.35,32.40 536.60,30.56 536.85,28.97 537.10,27.34 537.35,25.70 537.60,24.06 537.85,22.48 538.10,20.96 538.35,19.56 538.60,18.29 538.85,17.19 539.10,16.21 539.35,15.33 539.60,14.55 539.85,14.08 540.10,14.67 540.35,15.49 540.60,16.50 540.85,17.64 541.10,19.12 541.35,20.97 541.60,23.09 541.85,25.36 542.10,27.68 542.35,29.94 542.60,32.25 542.85,34.99 543.10,37.97 543.35,41.02 543.60,43.95 543.85,46.55 544.10,48.66 544.35,50.07 544.60,50.60 544.85,49.72 545.10,47.31 545.35,43.91 545.60,40.02 545.85,36.18 546.10,32.90 546.35,30.70 546.60,29.58 546.85,28.60 547.10,27.78 547.35,27.22 547.60,27.00 547.85,27.06 548.10,27.19 548.35,27.33 548.60,27.40 548.85,27.07 549.10,26.16 549.35,24.88 549.60,23.45 549.85,22.11 550.10,21.06 550.35,20.53 550.60,20.51 550.85,20.55 551.10,20.62 551.35,20.72 551.60,20.85 551.85,21.00 552.10,21.17 552.35,21.36 552.60,21.59 552.85,22.10 553.10,22.90 553.35,23.93 553.60,25.13 553.85,26.43 554.10,27.77 554.35,29.09 554.60,30.31 554.85,31.58 555.10,33.08 555.35,34.71 555.60,36.34 555.85,37.88 556.10,39.19 556.35,40.18 556.60,40.73 556.85,40.67 557.10,39.77 557.35,38.20 557.60,36.22 557.85,34.07 558.10,32.00 558.35,30.25 558.60,28.65 558.85,27.01 559.10,25.37 559.35,23.74 559.60,22.17 559.85,20.67 560.10,19.29 560.35,18.06 560.60,16.98 560.85,16.02 561.10,15.16 561.35,14.41 561.60,14.18 561.85,14.84 562.10,15.72 562.35,16.77 562.60,17.98 562.85,19.59 563.10,21.56 563.35,23.77 563.60,26.10 563.85,28.44 564.10,30.69 564.35,33.20 564.60,36.09 564.85,39.16 565.10,42.22 565.35,45.08 565.60,47.53 565.85,49.38 566.10,50.43 566.35,50.41 566.60,48.71 566.85,45.70 567.10,41.94 567.35,37.96 567.60,34.30 567.85,31.51 568.10,30.04 568.35,28.99 568.60,28.08 568.85,27.40 569.10,27.04 569.35,27.02 569.60,27.14 569.85,27.29 570.10,27.39 570.35,27.24 570.60,26.47 570.85,25.25 571.10,23.83 571.35,22.42 571.60,21.26 571.85,20.59 572.10,20.50 572.35,20.54 572.60,20.61 572.85,20.70 573.10,20.83 573.35,20.97 573.60,21.15 573.85,21.34 574.10,21.56 574.35,22.04 574.60,22.84 574.85,23.87 575.10,25.08 575.35,26.40 575.60,27.76 575.85,29.09 576.10,30.33 576.35,31.62 576.60,33.15 576.85,34.81 577.10,36.46 577.35,38.00 577.60,39.31 577.85,40.27 578.10,40.76 578.35,40.59 578.60,39.56 578.85,37.88 579.10,35.83 579.35,33.64 579.60,31.59 579.85,29.89 580.10,28.26 580.35,26.59 580.60,24.92 580.85,23.29 581.10,21.71 581.35,20.23 581.60,18.87 581.85,17.67 582.10,16.63 582.35,15.69 582.60,14.86 582.85,14.13 583.10,14.40 583.35,15.13 583.60,16.05 583.85,17.12 584.10,18.41 584.35,20.09 584.60,22.08 584.85,24.28 585.10,26.57 585.35,28.85 585.60,31.04 585.85,33.56 586.10,36.41 586.35,39.42 586.60,42.41 586.85,45.18 587.10,47.57 587.35,49.37 587.60,50.41 587.85,50.45 588.10,48.89 588.35,46.04 588.60,42.42 588.85,38.52 589.10,34.86 589.35,31.95 589.60,30.27 589.85,29.23 590.10,28.30 590.35,27.56 590.60,27.11 590.85,27.01 591.10,27.09 591.35,27.24 591.60,27.36 591.85,27.38 592.10,26.88 592.35,25.86 592.60,24.53 592.85,23.12 593.10,21.83 593.35,20.89 593.60,20.50 593.85,20.51 594.10,20.56 594.35,20.64 594.60,20.74 594.85,20.87 595.10,21.02 595.35,21.19 595.60,21.39 595.85,21.64 596.10,22.18 596.35,23.00 596.60,24.04 596.85,25.25 597.10,26.54 597.35,27.87 597.60,29.17 597.85,30.37 598.10,31.64 598.35,33.14 598.60,34.75 598.85,36.37 599.10,37.89 599.35,39.19 599.60,40.17 599.85,40.72 600.10,40.69 600.35,39.82 600.60,38.29 600.85,36.34 601.10,34.21 601.35,32.14 601.60,30.38 601.85,28.80 602.10,27.18 602.35,25.55 602.60,23.93 602.85,22.36 603.10,20.87 603.35,19.49 603.60,18.24 603.85,17.15 604.10,16.18 604.35,15.31 604.60,14.54 604.85,14.09 605.10,14.68 605.35,15.51 605.60,16.53 605.85,17.68 606.10,19.20 606.35,21.09 606.60,23.24 606.85,25.54 607.10,27.88 607.35,30.14 607.60,32.52 607.85,35.32 608.10,38.35 608.35,41.42 608.60,44.34 608.85,46.91 609.10,48.93 609.35,50.23 609.60,50.58 609.85,49.37 610.10,46.71 610.35,43.13 610.60,39.17 610.85,35.38 611.10,32.27 611.35,30.39 611.60,29.32 611.85,28.36 612.10,27.60 612.35,27.12 612.60,27.00 612.85,27.09 613.10,27.24 613.35,27.36 613.60,27.37 613.85,26.82 614.10,25.74 614.35,24.38 614.60,22.94 614.85,21.67 615.10,20.78 615.35,20.50 615.60,20.52 615.85,20.58 616.10,20.66 616.35,20.77 616.60,20.91 616.85,21.07 617.10,21.25 617.35,21.46 617.60,21.79 617.85,22.45 618.10,23.38 618.35,24.52 618.60,25.79 618.85,27.13 619.10,28.48 619.35,29.76 619.60,30.97 619.85,32.40 620.10,34.00 620.35,35.66 620.60,37.26 620.85,38.70 621.10,39.84 621.35,40.58 621.60,40.79 621.85,40.19 622.10,38.82 622.35,36.94 622.60,34.80 622.85,32.66 623.10,30.76 623.35,29.15 623.60,27.51 623.85,25.85 624.10,24.19 624.35,22.59 624.60,21.06 624.85,19.63 625.10,18.34 625.35,17.22 625.60,16.23 625.85,15.34 626.10,14.55 626.35,14.08 626.60,14.67 626.85,15.48 627.10,16.47 627.35,17.59 627.60,19.04 627.85,20.86 628.10,22.94 628.35,25.19 628.60,27.49 628.85,29.73 629.10,31.99 629.35,34.67 629.60,37.61 629.85,40.63 630.10,43.59 630.35,46.31 630.60,48.52 630.85,50.02 631.10,50.60 631.35,49.71 631.60,47.23 631.85,43.70 632.10,39.71 632.35,35.80 632.60,32.54 632.85,30.49 633.10,29.39 633.35,28.41 633.60,27.62 633.85,27.13 634.10,27.00 634.35,27.09 634.60,27.24 634.85,27.37 635.10,27.36 635.35,26.75 635.60,25.63 635.85,24.22 636.10,22.77 636.35,21.51 636.60,20.69 636.85,20.50 637.10,20.53 637.35,20.59 637.60,20.68 637.85,20.80 638.10,20.95 638.35,21.12 638.60,21.31 638.85,21.52 639.10,21.97 639.35,22.74 639.60,23.77 639.85,24.98 640.10,26.30 640.35,27.68 640.60,29.03 640.85,30.28 641.10,31.58 641.35,33.13 641.60,34.80 641.85,36.47 642.10,38.03 642.35,39.35 642.60,40.30 642.85,40.77 643.10,40.55 643.35,39.45 643.60,37.71 643.85,35.61 644.10,33.40 644.35,31.36 644.60,29.67 644.85,28.01 645.10,26.33 645.35,24.64 645.60,23.00 645.85,21.42 646.10,19.94 646.35,18.60 646.60,17.43 646.85,16.40 647.10,15.48 647.35,14.66 647.60,14.03 647.85,14.61 648.10,15.44 648.35,16.47 648.60,17.65 648.85,19.20 649.10,21.14 649.35,23.35 649.60,25.72 649.85,28.12 650.10,30.42 650.35,32.93 650.60,35.85 650.85,38.98 651.10,42.12 651.35,45.04 651.60,47.54 651.85,49.42 652.10,50.46 652.35,50.34 652.60,48.49 652.85,45.32 653.10,41.42 653.35,37.37 653.60,33.74 653.85,31.12 654.10,29.81 654.35,28.76 654.60,27.88 654.85,27.26 655.10,27.00 655.35,27.05 655.60,27.19 655.85,27.34 656.10,27.40 656.35,27.00 656.60,26.00 656.85,24.64 657.10,23.16 657.35,21.82 657.60,20.85 657.85,20.50 658.10,20.52 658.35,20.57 658.60,20.66 658.85,20.77 659.10,20.92 659.35,21.08 659.60,21.27 659.85,21.48 660.10,21.87 660.35,22.60 660.60,23.60 660.85,24.80 661.10,26.13 661.35,27.51 661.60,28.88 661.85,30.16 662.10,31.45 662.35,32.99 662.60,34.68 662.85,36.37 663.10,37.95 663.35,39.29 663.60,40.27 663.85,40.77 664.10,40.56 664.35,39.46 664.60,37.71 664.85,35.59 665.10,33.36 665.35,31.31 665.60,29.61 665.85,27.94 666.10,26.23 666.35,24.53 666.60,22.88 666.85,21.29 667.10,19.83 667.35,18.53" fill="none" stroke="#8cc84a" stroke-width="1.6" stroke-linejoin="round"/>
<rect x="442.5" y="1.5" width="241.0" height="49.8" fill="none" stroke="#3a3a3a" stroke-width="1.1"/>
<line x1="567.4" y1="9" x2="583.2" y2="9" stroke="#1a22ee" stroke-width="1.6"/>
<text x="587.1" y="11.6" font-family='"Liberation Serif", serif' font-weight="bold" font-size="9.7" fill="#000">True</text>
<line x1="616" y1="9" x2="631.9" y2="9" stroke="#8cc84a" stroke-width="1.5"/>
<text x="634.6" y="11.5" font-family='"Liberation Serif", serif' font-weight="bold" font-size="9.5" fill="#000">Prediction</text>
<text x="448.1" y="64.9" font-family='"Liberation Serif", serif' font-weight="bold" font-size="10.8" text-anchor="middle" fill="#000">0</text>
<text x="491.91" y="64.9" font-family='"Liberation Serif", serif' font-weight="bold" font-size="10.8" text-anchor="middle" fill="#000">200</text>
<text x="535.72" y="64.9" font-family='"Liberation Serif", serif' font-weight="bold" font-size="10.8" text-anchor="middle" fill="#000">400</text>
<text x="579.53" y="64.9" font-family='"Liberation Serif", serif' font-weight="bold" font-size="10.8" text-anchor="middle" fill="#000">600</text>
<text x="623.34" y="64.9" font-family='"Liberation Serif", serif' font-weight="bold" font-size="10.8" text-anchor="middle" fill="#000">800</text>
<text x="667.15" y="64.9" font-family='"Liberation Serif", serif' font-weight="bold" font-size="10.8" text-anchor="middle" fill="#000">1000</text>
<text x="439.3" y="8.9" font-family='"Liberation Serif", serif' font-weight="bold" font-size="10" text-anchor="end" fill="#000">1.5</text>
<text x="439.3" y="30.4" font-family='"Liberation Serif", serif' font-weight="bold" font-size="10" text-anchor="end" fill="#000">1</text>
<text x="439.3" y="51.9" font-family='"Liberation Serif", serif' font-weight="bold" font-size="10" text-anchor="end" fill="#000">0.5</text>
<text x="531.4" y="75.9" font-family='"Liberation Serif", serif' font-weight="bold" font-size="12" fill="#000">time step k</text>
<text transform="translate(416.8 27.9) rotate(-90)" x="0" y="0" font-family='"Liberation Serif", serif' font-weight="bold" font-size="10.8" text-anchor="middle" fill="#000">Prediction</text>
<text x="444.4" y="11.2" font-family='"Liberation Serif", serif' font-weight="bold" font-size="13.2" fill="#000">(b)</text>
<line x1="461.5" y1="79.3" x2="461.5" y2="252.4" stroke="#cdcdcd" stroke-width="0.8"/>
<line x1="501.9" y1="79.3" x2="501.9" y2="252.4" stroke="#cdcdcd" stroke-width="0.8"/>
<line x1="542.2" y1="79.3" x2="542.2" y2="252.4" stroke="#cdcdcd" stroke-width="0.8"/>
<line x1="582.4" y1="79.3" x2="582.4" y2="252.4" stroke="#cdcdcd" stroke-width="0.8"/>
<line x1="622.5" y1="79.3" x2="622.5" y2="252.4" stroke="#cdcdcd" stroke-width="0.8"/>
<line x1="662.6" y1="79.3" x2="662.6" y2="252.4" stroke="#cdcdcd" stroke-width="0.8"/>
<line x1="441.7" y1="208.85" x2="682.5" y2="208.85" stroke="#cdcdcd" stroke-width="0.8"/>
<line x1="441.7" y1="165.7" x2="682.5" y2="165.7" stroke="#cdcdcd" stroke-width="0.8"/>
<line x1="441.7" y1="122.55" x2="682.5" y2="122.55" stroke="#cdcdcd" stroke-width="0.8"/>
<path d="M461.5 252.4v-3M501.9 252.4v-3M542.2 252.4v-3M582.4 252.4v-3M622.5 252.4v-3M662.6 252.4v-3M441.7 252h3M441.7 230.43h1.8M441.7 208.85h3M441.7 187.28h1.8M441.7 165.7h3M441.7 144.12h1.8M441.7 122.55h3M441.7 100.97h1.8M441.7 79.4h3" stroke="#3a3a3a" stroke-width="0.9" fill="none"/>
<rect x="441.7" y="79.3" width="240.8" height="173.10000000000002" fill="none" stroke="#3a3a3a" stroke-width="1.2"/>
<polyline points="461.6,184.6 501.9,224.1 542.2,200.9 582.4,180 622.4,105.3 662.5,160.1" fill="none" stroke="#1a1a1a" stroke-width="1.2" stroke-dasharray="5.2 2.2 1 2.2"/>
<path d="M461.6 179.7V189.5M459.3 179.7h4.6M459.3 189.5h4.6" stroke="#000000" stroke-width="1.1" fill="none"/>
<circle cx="461.6" cy="184.6" r="3.1" fill="#000000"/>
<path d="M501.9 216.9V231.5M499.6 216.9h4.6M499.6 231.5h4.6" stroke="#ff0000" stroke-width="1.1" fill="none"/>
<circle cx="501.9" cy="224.1" r="3.1" fill="#ff0000"/>
<path d="M542.2 193.6V208.3M539.9 193.6h4.6M539.9 208.3h4.6" stroke="#14ee14" stroke-width="1.1" fill="none"/>
<circle cx="542.2" cy="200.9" r="3.1" fill="#14ee14"/>
<path d="M582.4 175.1V184.8M580.1 175.1h4.6M580.1 184.8h4.6" stroke="#0000ff" stroke-width="1.1" fill="none"/>
<circle cx="582.4" cy="180" r="3.1" fill="#0000ff"/>
<circle cx="622.4" cy="105.3" r="3.1" fill="#00ffff"/>
<path d="M662.5 149.2V170.5M660.2 149.2h4.6M660.2 170.5h4.6" stroke="#ff00ff" stroke-width="1.1" fill="none"/>
<circle cx="662.5" cy="160.1" r="3.1" fill="#ff00ff"/>
<rect x="489.9" y="203.5" width="20.9" height="37.2" fill="none" stroke="#ee1111" stroke-width="1.2"/>
<line x1="504.4" y1="203.5" x2="519.1" y2="59.5" stroke="#ee1111" stroke-width="1.2"/>
<polygon points="519.7,54.6 521.3,60.2 517.6,59.8" fill="#ee1111"/>
<text x="437.9" y="85.7" font-family='"Liberation Serif", serif' font-weight="bold" font-size="9.7" text-anchor="end" fill="#000">0.16</text>
<text x="437.9" y="127.4" font-family='"Liberation Serif", serif' font-weight="bold" font-size="9.7" text-anchor="end" fill="#000">0.12</text>
<text x="437.9" y="169" font-family='"Liberation Serif", serif' font-weight="bold" font-size="9.7" text-anchor="end" fill="#000">0.08</text>
<text x="437.9" y="212.9" font-family='"Liberation Serif", serif' font-weight="bold" font-size="9.7" text-anchor="end" fill="#000">0.04</text>
<text x="437.9" y="253.5" font-family='"Liberation Serif", serif' font-weight="bold" font-size="9.7" text-anchor="end" fill="#000">0.00</text>
<text x="468.5" y="264.9" font-family='"Liberation Serif", serif' font-weight="bold" font-size="9.8" text-anchor="middle" fill="#000">A</text>
<text x="507.3" y="264.9" font-family='"Liberation Serif", serif' font-weight="bold" font-size="9.8" text-anchor="middle" fill="#000">B</text>
<text x="546.9" y="264.9" font-family='"Liberation Serif", serif' font-weight="bold" font-size="9.8" text-anchor="middle" fill="#000">C</text>
<text x="586.0" y="264.9" font-family='"Liberation Serif", serif' font-weight="bold" font-size="9.8" text-anchor="middle" fill="#000">D</text>
<text x="624.0" y="264.9" font-family='"Liberation Serif", serif' font-weight="bold" font-size="9.8" text-anchor="middle" fill="#000">E</text>
<text x="665.5" y="264.9" font-family='"Liberation Serif", serif' font-weight="bold" font-size="9.8" text-anchor="middle" fill="#000">F</text>
<text x="524.8" y="279.4" font-family='"Liberation Serif", serif' font-weight="bold" font-size="10.9" fill="#000">Dynamical Regime</text>
<text transform="translate(415.2 159) rotate(-90)" x="0" y="0" font-family='"Liberation Serif", serif' font-weight="bold" font-size="10.7" text-anchor="middle" fill="#000">NRMSE</text>
<text x="444.4" y="90.9" font-family='"Liberation Serif", serif' font-weight="bold" font-size="13.5" fill="#000">(c)</text>
</svg>
</body></html>
